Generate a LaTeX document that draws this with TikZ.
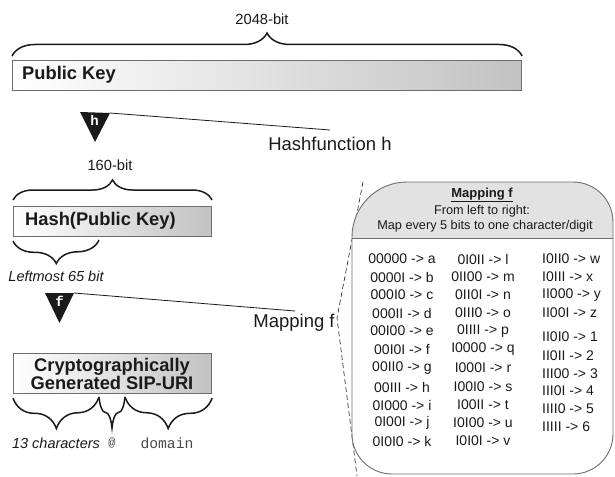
\documentclass[tikz,border=0pt]{standalone}
\usepackage{fontspec}
\setmainfont{Liberation Sans}
\setmonofont{Liberation Mono}
\usetikzlibrary{decorations.pathreplacing,calc}

\definecolor{ink}{HTML}{1A1A1A}
\definecolor{boxedge}{HTML}{6E6E6E}
\definecolor{shadeend}{HTML}{C2C2C2}
\definecolor{headfill}{HTML}{E2E2E2}
\definecolor{ttgray}{HTML}{4A4A4A}

\tikzset{
  keybox/.style={draw=boxedge, line width=1.1pt, left color=white, right color=shadeend,
                 inner sep=0pt, anchor=north west},
  boxtext/.style={font=\fontsize{18.3}{18}\selectfont\bfseries, text=ink, inner sep=0pt},
  sizelbl/.style={font=\fontsize{14.7}{16}\selectfont, text=ink, inner sep=0pt},
  partlbl/.style={font=\fontsize{14.5}{16}\selectfont\itshape, text=ink, inner sep=0pt},
  ttlbl/.style={font=\fontsize{14.7}{16}\ttfamily, text=ttgray, inner sep=0pt},
  funclbl/.style={font=\fontsize{18.5}{20}\selectfont, text=ink, inner sep=0pt},
  bracket/.style={decorate, decoration={brace, amplitude=#1}, line width=1.5pt, draw=ink},
  tri/.style={fill=ink},
  trisym/.style={font=\fontsize{14}{14}\ttfamily\bfseries, text=white, inner sep=0pt},
  pointer/.style={draw=ink, line width=0.8pt},
  headtxt/.style={font=\fontsize{12.7}{14}\selectfont, text=ink, inner sep=0pt},
  maptxt/.style={font=\fontsize{14}{16}\selectfont, text=ink, inner sep=0pt},
}

\begin{document}
\begin{tikzpicture}[x=1pt, y=-1pt]
\useasboundingbox (0,0) rectangle (615,476);

% ---- public key ----------------------------------------------------------
\node[keybox, minimum width=509pt, minimum height=30pt] (pk) at (12,60) {};
\node[boxtext, anchor=west] (pktxt) at (22,75) {Public Key};
\draw[bracket=23] ($(pk.north west)+(0,-4)$) -- ($(pk.north east)+(0,-4)$);
\node[sizelbl] (bits2048) at (262,19) {2048-bit};

% ---- hash function h -----------------------------------------------------
\coordinate (hL) at (80,112);
\coordinate (hR) at (110,113);
\coordinate (hA) at (95,142);
\fill[tri] (hL) -- (hR) -- (hA) -- cycle;
\node[trisym] (hsym) at (94.5,120) {h};
\coordinate (hEnd) at (330,130);
\draw[pointer] (hR) -- (hEnd);
\node[funclbl] (hashfn) at (330,144) {Hashfunction h};

% ---- hash ----------------------------------------------------------------
\node[sizelbl] (bits160) at (110,165) {160-bit};
\node[keybox, minimum width=198pt, minimum height=30pt] (hash) at (13,206) {};
\node[boxtext, anchor=west] (hashtxt) at (25,221) {Hash(Public Key)};
\draw[bracket=20] ($(hash.north west)+(0,-6)$) -- ($(hash.north east)+(0,-6)$);
\coordinate (cut65) at (99,240);
\draw[bracket=23] (cut65) -- ($(hash.south west)+(0,4)$);
\node[partlbl] (left65) at (56,276) {Leftmost 65 bit};

% ---- mapping f -----------------------------------------------------------
\coordinate (fL) at (45,293);
\coordinate (fR) at (74,293);
\coordinate (fA) at (59.5,323);
\fill[tri] (fL) -- (fR) -- (fA) -- cycle;
\node[trisym] (fsym) at (59.5,301) {f};
\coordinate (fEnd) at (295,311);
\draw[pointer] (fR) -- (fEnd);
\node[funclbl] (mapfn) at (294,323) {Mapping f};

% ---- SIP-URI -------------------------------------------------------------
\node[keybox, minimum width=198pt, minimum height=40pt] (sip) at (13,353) {};
\node[boxtext, align=center] (siptxt) at (112,374) {Cryptographically\\Generated SIP-URI};
\coordinate (cutA) at (99,397);
\coordinate (cutB) at (125,397);
\draw[bracket=31] (cutA) -- ($(sip.south west)+(0,4)$);
\draw[bracket=31] (cutB) -- (cutA);
\draw[bracket=31] ($(sip.south east)+(0,4)$) -- (cutB);
\node[partlbl] (chars) at (56,443) {13 characters};
\node[ttlbl, font=\fontsize{12}{14}\ttfamily] (atsign) at (112,443) {@};
\node[ttlbl] (domain) at (167,443) {domain};

% ---- callout to the mapping table ---------------------------------------
\coordinate (dTop) at (363,182);
\coordinate (dTip) at (337,318);
\coordinate (dBot) at (357,476);
\draw[draw=ink, line width=0.6pt, dash pattern=on 5pt off 3pt] (dTop) -- (dTip) -- (dBot);

% ---- mapping table box ---------------------------------------------------
\def\mapoutline{(352,430) -- (352,237) .. controls (352,206.6) and (376.6,182) .. (407,182)
  -- (573,182) .. controls (595.1,182) and (613,199.9) .. (613,222)
  -- (613,434) .. controls (613,456.1) and (595.1,474) .. (573,474)
  -- (392,474) .. controls (369.9,474) and (352,456.1) .. (352,434) -- cycle}
\fill[white] \mapoutline;
\begin{scope}
  \clip \mapoutline;
  \fill[headfill] (340,170) rectangle (620,238);
\end{scope}
\draw[boxedge, line width=0.9pt] \mapoutline;
\draw[boxedge, line width=0.9pt] (352,238) -- (613,238);

\node[headtxt, font=\fontsize{13}{14}\selectfont\bfseries] (maphead) at (482,195) {\underline{Mapping f}};
\node[headtxt] (maphead2) at (482,211) {From left to right:};
\node[headtxt] (maphead3) at (485,226) {Map every 5 bits to one character/digit};

% first and second columns (centred)
\foreach \y/\a/\b [count=\i] in {
  259/00000 -> a/0I0II -> l,
  277/0000I -> b/0II00 -> m,
  295/000I0 -> c/0II0I -> n,
  313/000II -> d/0III0 -> o,
  331/00I00 -> e/0IIII -> p,
  349/00I0I -> f/I0000 -> q,
  368/00II0 -> g/I000I -> r,
  387/00III -> h/I00I0 -> s,
  405/0I000 -> i/I00II -> t,
  423/0I00I -> j/I0I00 -> u,
  441/0I0I0 -> k/I0I0I -> v} {
  \node[maptxt] (colA\i) at (402,\y) {\a};
  \node[maptxt] (colB\i) at (483,\y) {\b};
}
% third column (left aligned)
\foreach \y/\c [count=\i] in {
  259/I0II0 -> w,
  277/I0III -> x,
  295/II000 -> y,
  313/II00I -> z,
  337/II0I0 -> 1,
  356/II0II -> 2,
  374/III00 -> 3,
  391/III0I -> 4,
  409/IIII0 -> 5,
  427/IIIII -> 6} {
  \node[maptxt, anchor=west] (colC\i) at (542,\y) {\c};
}
\end{tikzpicture}
\end{document}
